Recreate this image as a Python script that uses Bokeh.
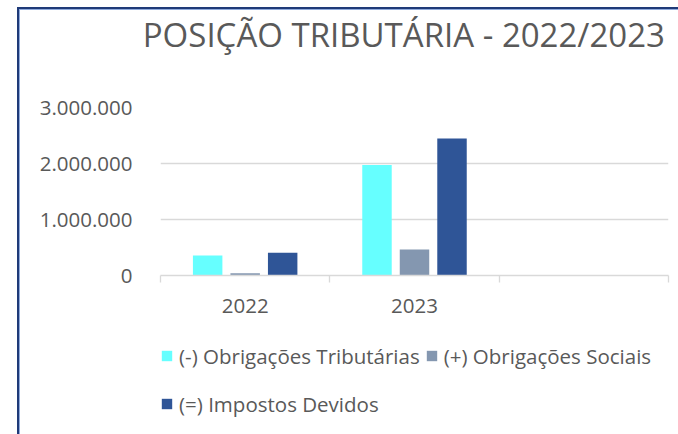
from bokeh.plotting import figure
from bokeh.layouts import column
from bokeh.models import (FactorRange, Range1d, LinearAxis, CategoricalAxis, FixedTicker,
                          Legend, LegendItem, ColumnDataSource)
from bokeh.transform import dodge
from bokeh.embed import file_html
from bokeh.resources import INLINE

# ---- data ----
categories = ["2022", "2023", " "]
series_names = ["(-) Obrigações Tributárias", "(+) Obrigações Sociais", "(=) Impostos Devidos"]
obrig_tributarias = [357000, 1975000, 0]
obrig_sociais = [40000, 464000, 0]
impostos_devidos = [405000, 2446000, 0]
y_ticks = [0, 1000000, 2000000, 3000000]
y_tick_labels = ["0", "1.000.000", "2.000.000", "3.000.000"]
title_text = "POSIÇÃO TRIBUTÁRIA -  2022/2023"

colors = ["#66FFFF", "#8497B0", "#2F5597"]
text_color = "#595959"
grid_color = "#D9D9D9"
FONT = "Open Sans"

src = ColumnDataSource(dict(cat=categories, a=obrig_tributarias, b=obrig_sociais, c=impostos_devidos))
x_range = FactorRange(*categories, range_padding=0)

# ---- title strip ----
tf = figure(width=678, height=70, x_range=x_range, y_range=Range1d(0, 1),
            output_backend="svg", toolbar_location=None, x_axis_location=None,
            y_axis_location=None, min_border_left=160, min_border_right=10,
            min_border_top=0, min_border_bottom=0)
tf.outline_line_color = None
tf.background_fill_color = None
tf.border_fill_color = None
tf.xgrid.visible = False
tf.ygrid.visible = False
tf.title.text = title_text
tf.title.align = "right"
tf.title.text_font = FONT
tf.title.text_font_size = "33px"
tf.title.text_font_style = "normal"
tf.title.text_color = text_color
tf.title.offset = -5
tf.title.standoff = 18

# ---- main chart ----
p = figure(width=678, height=260, x_range=x_range,
           y_range=Range1d(0, 3000000), output_backend="svg", toolbar_location=None,
           x_axis_location=None, min_border_left=160, min_border_right=10,
           min_border_top=37, min_border_bottom=55)
p.outline_line_color = None
p.background_fill_color = "white"
p.border_fill_color = None

offs = [-0.2215, 0.0, 0.2215]
keys = ["a", "b", "c"]
for key, off, col in zip(keys, offs, colors):
    p.vbar(x=dodge("cat", off, range=x_range), top=key, width=0.174, source=src,
           fill_color=col, line_color=None)

yax = p.yaxis[0]
yax.ticker = FixedTicker(ticks=y_ticks)
yax.major_label_overrides = {t: l for t, l in zip(y_ticks, y_tick_labels)}
yax.axis_line_color = None
yax.major_tick_line_color = None
yax.minor_tick_line_color = None
yax.major_tick_out = 0
yax.major_tick_in = 0
yax.major_label_standoff = 28
yax.major_label_text_font = FONT
yax.major_label_text_font_size = "20.5px"
yax.major_label_text_color = text_color

p.ygrid.ticker = FixedTicker(ticks=y_ticks)
p.ygrid.grid_line_color = grid_color
p.ygrid.grid_line_width = 1.3
p.xgrid.grid_line_color = None

# boundary tick axis (category boundaries in synthetic coordinates)
bounds = list(range(len(categories) + 1))
tax = LinearAxis(ticker=FixedTicker(ticks=bounds))
tax.major_label_overrides = {b: "" for b in bounds}
tax.axis_line_color = grid_color
tax.axis_line_width = 1.3
tax.major_tick_line_color = grid_color
tax.major_tick_line_width = 1.3
tax.major_tick_out = 7
tax.major_tick_in = 0
tax.minor_tick_line_color = None
tax.major_label_standoff = 0
p.add_layout(tax, "below")

cax = CategoricalAxis()
cax.axis_line_color = None
cax.major_tick_line_color = None
cax.minor_tick_line_color = None
cax.major_tick_out = 0
cax.major_tick_in = 0
cax.major_label_standoff = 8
cax.major_label_text_font = FONT
cax.major_label_text_font_size = "20.5px"
cax.major_label_text_color = text_color
p.add_layout(cax, "below")

# ---- legend strip ----
lg = figure(width=678, height=104, x_range=x_range, y_range=Range1d(0, 1),
            output_backend="svg", toolbar_location=None, x_axis_location=None,
            y_axis_location=None, min_border_left=160, min_border_right=10,
            min_border_top=0, min_border_bottom=0)
lg.outline_line_color = None
lg.background_fill_color = None
lg.border_fill_color = None
lg.xgrid.visible = False
lg.ygrid.visible = False
lg_renderers = []
for key, off, col in zip(keys, offs, colors):
    r = lg.vbar(x=dodge("cat", off, range=x_range), top=key, width=0.174, source=src,
                fill_color=col, line_color=None, visible=False)
    lg_renderers.append(r)

legend = Legend(items=[LegendItem(label=n, renderers=[r]) for n, r in zip(series_names, lg_renderers)],
                location=(0, 9), orientation="horizontal", ncols=2)
legend.label_text_font = FONT
legend.label_text_font_size = "20.5px"
legend.label_text_color = text_color
legend.glyph_width = 13
legend.glyph_height = 13
legend.label_standoff = 6
legend.label_height = 43
legend.spacing = 5
legend.padding = 0
legend.margin = 0
legend.border_line_color = None
legend.background_fill_alpha = 0
legend.inactive_fill_alpha = 0
lg.add_layout(legend, "center")

layout = column(tf, p, lg, spacing=0)
# chart-area border (left and top edges visible in the reference)
layout.styles = {
    "background-color": "white",
    "background-image": ("linear-gradient(#1F3A78, #1F3A78), linear-gradient(#1F3A78, #1F3A78), "
                         "linear-gradient(#8FAADC, #8FAADC), linear-gradient(#8FAADC, #8FAADC)"),
    "background-size": "2px 100%, 100% 2px, 1px 100%, 100% 1px",
    "background-position": "17px 7px, 17px 7px, 19px 9px, 19px 9px",
    "background-repeat": "no-repeat",
}

open("out.html", "w").write(file_html(layout, INLINE))
